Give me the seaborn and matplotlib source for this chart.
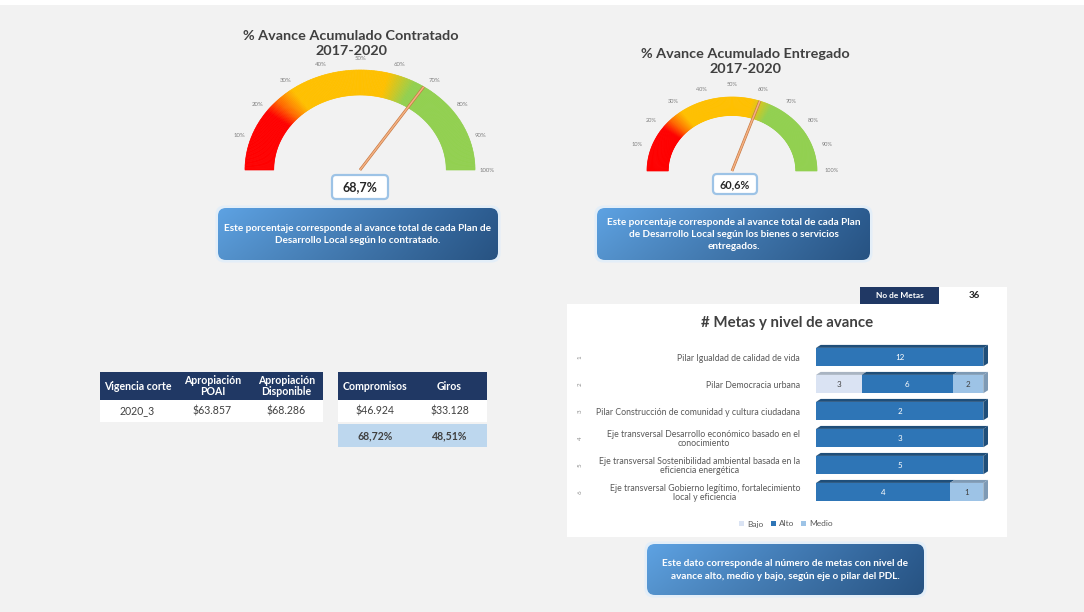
import numpy as np
import pandas as pd
import matplotlib
matplotlib.use("Agg")
import matplotlib.pyplot as plt
import matplotlib.transforms as mtrans
import seaborn as sns
from matplotlib.patches import Polygon, FancyBboxPatch, Rectangle, Patch
from matplotlib.colors import to_rgb

# ---------------- data ----------------
gauge_titles = ["% Avance Acumulado Contratado\n2017-2020", "% Avance Acumulado Entregado\n2017-2020"]
gauge_values = [68.7, 60.6]
gauge_ticks = [10, 20, 30, 40, 50, 60, 70, 80, 90, 100]
gauge_notes = [
    "Este porcentaje corresponde al avance total de cada Plan de\nDesarrollo Local según lo contratado.",
    "Este porcentaje corresponde al avance total de cada Plan\nde Desarrollo Local según los bienes o servicios\nentregados.",
]
metas_note = "Este dato corresponde al número de metas con nivel de\navance alto, medio y bajo, según eje o pilar del PDL."

table1_cols = ["Vigencia corte", "Apropiación\nPOAI", "Apropiación\nDisponible"]
table1_vals = ["2020_3", "$63.857", "$68.286"]
table2_cols = ["Compromisos", "Giros"]
table2_vals = ["$46.924", "$33.128"]
table2_pct = ["68,72%", "48,51%"]

categories = [
    "Pilar Igualdad de calidad de vida",
    "Pilar Democracia urbana",
    "Pilar Construcción de comunidad y cultura ciudadana",
    "Eje transversal Desarrollo económico basado en el\nconocimiento",
    "Eje transversal Sostenibilidad ambiental basada en la\neficiencia energética",
    "Eje transversal Gobierno legítimo, fortalecimiento\nlocal y eficiencia",
]
row_ids = ["1", "2", "3", "4", "5", "6"]
bajo = [0, 3, 0, 0, 0, 0]
alto = [12, 6, 2, 3, 5, 4]
medio = [0, 2, 0, 0, 0, 1]
n_metas = 36
metas_title = "# Metas y nivel de avance"

# ---------------- style ----------------
sns.set_theme(style="white")
plt.rcParams["font.family"] = ["Lato", "DejaVu Sans"]

BG = "#F2F2F2"
NAVY = "#203864"
COL_BAJO = "#DAE3F3"
COL_ALTO = "#2E75B6"
COL_MEDIO = "#9DC3E6"
DARK = {COL_BAJO: "#A9B4C2", COL_ALTO: "#1F4E79", COL_MEDIO: "#7E9AB5"}
TXT = "#404040"

fig = plt.figure(figsize=(10.84, 6.12), dpi=100, facecolor=BG)
cv = fig.add_axes([0, 0, 1, 1])
cv.set_xlim(0, 1084)
cv.set_ylim(612, 0)
cv.axis("off")
cv.set_facecolor(BG)

cv.add_patch(Rectangle((0, 0), 1084, 5, fc="white", ec="none", zorder=1))

# ---------------- gauges ----------------
stops_f = [0, 0.20, 0.245, 0.30, 0.58, 0.66, 1.0]
stops_c = ["#FF0000", "#FF0000", "#FF6A00", "#FFC000", "#FFC000", "#92D050", "#92D050"]
stops_rgb = np.array([to_rgb(c) for c in stops_c])


def color_at(f):
    return tuple(np.interp(f, stops_f, stops_rgb[:, k]) for k in range(3))


def gauge(cx, cy, rx, ry, inner, value, lrx, lry, tfs, title_xy, title, box, vfs):
    n = 220
    fr = np.linspace(0, 1, n + 1)
    for a, b in zip(fr[:-1], fr[1:]):
        t = np.linspace(np.pi * (1 - a), np.pi * (1 - b), 3)
        xo = cx + rx * np.cos(t)
        yo = cy - ry * np.sin(t)
        xi = cx + rx * inner * np.cos(t[::-1])
        yi = cy - ry * inner * np.sin(t[::-1])
        col = color_at((a + b) / 2)
        cv.add_patch(Polygon(np.c_[np.r_[xo, xi], np.r_[yo, yi]], closed=True,
                             fc=col, ec=col, lw=0.5, zorder=2))
    for tk in gauge_ticks:
        th = np.pi * (1 - tk / 100)
        cv.text(cx + lrx * np.cos(th), cy - lry * np.sin(th), f"{tk}%",
                ha="center", va="center", fontsize=tfs, color="#7F7F7F", zorder=3)
    th = np.pi * (1 - value / 100)
    nx, ny = cx + rx * np.cos(th), cy - ry * np.sin(th)
    cv.plot([cx, nx], [cy, ny], color="#C5763F", lw=2.0, solid_capstyle="butt", zorder=4)
    cv.plot([cx, nx], [cy, ny], color="#F4B183", lw=1.1, solid_capstyle="butt", zorder=5)
    cv.text(title_xy[0], title_xy[1], title, ha="center", va="center", fontsize=10.4,
            fontweight="bold", color=TXT, linespacing=1.35, zorder=3)
    bx0, by0, bx1, by1 = box
    cv.add_patch(FancyBboxPatch((bx0, by0), bx1 - bx0, by1 - by0,
                                boxstyle="round,pad=0,rounding_size=4",
                                fc="white", ec="#9DC3E6", lw=1.6, zorder=6))
    cv.text((bx0 + bx1) / 2, (by0 + by1) / 2 + 0.5, f"{value:.1f}".replace(".", ",") + "%",
            ha="center", va="center", fontsize=vfs, fontweight="bold", color="#262626", zorder=7)


gauge(360, 170, 115, 100, 0.75, gauge_values[0], 127, 111, 4.3,
      (351, 43.5), gauge_titles[0], (332, 175, 388, 199), 9)
gauge(732, 171, 85, 74, 0.75, gauge_values[1], 100, 86, 4.1,
      (745, 61.5), gauge_titles[1], (713, 174, 757, 194), 7.8)


# ---------------- gradient note boxes ----------------
def note_box(x0, y0, x1, y1, text):
    cv.add_patch(FancyBboxPatch((x0 - 2.5, y0 - 2.5), x1 - x0 + 5, y1 - y0 + 5,
                                boxstyle="round,pad=0,rounding_size=9",
                                fc="#E3EEF8", ec="none", zorder=2))
    patch = FancyBboxPatch((x0, y0), x1 - x0, y1 - y0,
                           boxstyle="round,pad=0,rounding_size=8",
                           fc="none", ec="none", zorder=3)
    cv.add_patch(patch)
    g = np.linspace(0, 1, 256)
    c0 = np.array(to_rgb("#5A9CDA"))
    c1 = np.array(to_rgb("#2A588A"))
    row = c0[None, :] * (1 - g[:, None]) + c1[None, :] * g[:, None]
    v = np.linspace(1.04, 0.94, 32)[:, None, None]
    img = np.clip(row[None, :, :] * v, 0, 1)
    im = cv.imshow(img, extent=(x0, x1, y1, y0), aspect="auto", zorder=3,
                   interpolation="bilinear")
    im.set_clip_path(patch)
    cv.text((x0 + x1) / 2, (y0 + y1) / 2 + 0.5, text, ha="center", va="center",
            color="white", fontsize=7.2, fontweight="bold", linespacing=1.45, zorder=4)


note_box(218, 208, 498, 260, gauge_notes[0])
note_box(597, 208, 870, 260, gauge_notes[1])
note_box(647, 544, 924, 595, metas_note)

# ---------------- tables ----------------
t1_edges = [100, 175, 250, 323]
cv.add_patch(Rectangle((t1_edges[0], 372), t1_edges[-1] - t1_edges[0], 28, fc=NAVY, ec="none", zorder=2))
cv.add_patch(Rectangle((t1_edges[0], 400), t1_edges[-1] - t1_edges[0], 22, fc="white", ec="none", zorder=2))
for i, (h, v) in enumerate(zip(table1_cols, table1_vals)):
    xc = (t1_edges[i] + t1_edges[i + 1]) / 2
    cv.text(xc, 386, h, ha="center", va="center", color="white", fontsize=7.6,
            fontweight="bold", linespacing=1.0, zorder=3)
    cv.text(xc, 411, v, ha="center", va="center", color=TXT, fontsize=7.6, zorder=3)

t2_edges = [338, 412, 487]
cv.add_patch(Rectangle((t2_edges[0], 372), t2_edges[-1] - t2_edges[0], 28, fc=NAVY, ec="none", zorder=2))
cv.add_patch(Rectangle((t2_edges[0], 400), t2_edges[-1] - t2_edges[0], 22, fc="white", ec="none", zorder=2))
cv.add_patch(Rectangle((t2_edges[0], 424), t2_edges[-1] - t2_edges[0], 23, fc="#BDD7EE", ec="none", zorder=2))
for i, (h, v, p) in enumerate(zip(table2_cols, table2_vals, table2_pct)):
    xc = (t2_edges[i] + t2_edges[i + 1]) / 2
    cv.text(xc, 386, h, ha="center", va="center", color="white", fontsize=7.6,
            fontweight="bold", zorder=3)
    cv.text(xc, 411, v, ha="center", va="center", color=TXT, fontsize=7.6, zorder=3)
    cv.text(xc, 435.5, p, ha="center", va="center", color=TXT, fontsize=7.6,
            fontweight="bold", zorder=3)

# ---------------- metas panel ----------------
cv.add_patch(Rectangle((567, 304), 440, 233, fc="white", ec="none", zorder=1))
cv.add_patch(Rectangle((939, 287), 68, 17, fc="white", ec="none", zorder=1))
cv.add_patch(Rectangle((860, 287), 79, 17, fc=NAVY, ec="none", zorder=2))
cv.text(899.5, 295.5, "No de Metas", ha="center", va="center", color="white",
        fontsize=6, fontweight="bold", zorder=3)
cv.text(974, 295.5, str(n_metas), ha="center", va="center", color="#262626",
        fontsize=7, fontweight="bold", zorder=3)
cv.text(787, 323, metas_title, ha="center", va="center", color=TXT,
        fontsize=10.8, fontweight="bold", zorder=3)

df = pd.DataFrame({"categoria": categories, "Bajo": bajo, "Alto": alto, "Medio": medio})
tot = df[["Bajo", "Alto", "Medio"]].sum(axis=1)
df["c_medio"] = (df["Bajo"] + df["Alto"] + df["Medio"]) / tot
df["c_alto"] = (df["Bajo"] + df["Alto"]) / tot
df["c_bajo"] = df["Bajo"] / tot

px_top, px_bot = 342.2, 505.6
bax = fig.add_axes([816 / 1084, 1 - px_bot / 612, 174 / 1084, (px_bot - px_top) / 612])
bax.set_facecolor("none")
H = 0.68
for col, c in [("c_medio", COL_MEDIO), ("c_alto", COL_ALTO), ("c_bajo", COL_BAJO)]:
    sns.barplot(data=df, x=col, y="categoria", order=categories, color=c, orient="h",
                errorbar=None, width=H, saturation=1, linewidth=0, ax=bax)

d, e = 0.028, 0.11
for i, r in df.iterrows():
    segs = []
    left = 0.0
    for name, c in [("Bajo", COL_BAJO), ("Alto", COL_ALTO), ("Medio", COL_MEDIO)]:
        w = r[name] / tot[i]
        if w > 0:
            segs.append((left, w, c, r[name]))
        left += w
    top = i - H / 2
    for (l, w, c, val) in segs:
        bax.add_patch(Polygon([(l, top), (l + d, top - e), (l + w + d, top - e), (l + w, top)],
                              closed=True, fc=DARK[c], ec="none", zorder=3))
        tc = "white" if c == COL_ALTO else "#404040"
        bax.text(l + w / 2, i, f"{val}", ha="center", va="center", fontsize=5.8,
                 color=tc, zorder=4)
    l, w, c, _ = segs[-1]
    end = l + w
    bax.add_patch(Polygon([(end, top), (end + d, top - e), (end + d, i + H / 2 - e), (end, i + H / 2)],
                          closed=True, fc=DARK[c], ec="none", zorder=3))

bax.set_xlim(0, 1.04)
bax.set_ylim(len(categories) - 0.5, -0.55)
bax.set_xlabel("")
bax.set_ylabel("")
bax.set_xticks([])
bax.set_yticks(range(len(categories)))
bax.set_yticklabels(categories, fontsize=6.3, color="#595959")
for t in bax.get_yticklabels():
    t.set_multialignment("center")
    t.set_linespacing(1.0)
bax.tick_params(axis="y", length=0, pad=11.5)
for s in bax.spines.values():
    s.set_visible(False)

tr = mtrans.blended_transform_factory(cv.transData, bax.transData)
for i, rid in enumerate(row_ids):
    fig.text(580, i, rid, transform=tr, rotation=90, ha="center", va="center",
             fontsize=4.5, color="#8C8C8C")

handles = [Patch(fc=COL_BAJO, ec="none"), Patch(fc=COL_ALTO, ec="none"), Patch(fc=COL_MEDIO, ec="none")]
fig.legend(handles, ["Bajo", "Alto", "Medio"], loc="center", ncol=3,
           bbox_to_anchor=(786 / 1084, 1 - 524 / 612), frameon=False, fontsize=6,
           handlelength=0.6, handleheight=0.6, columnspacing=0.9, handletextpad=0.35,
           labelcolor="#595959")

fig.savefig("out.png", dpi=100, facecolor=BG)
